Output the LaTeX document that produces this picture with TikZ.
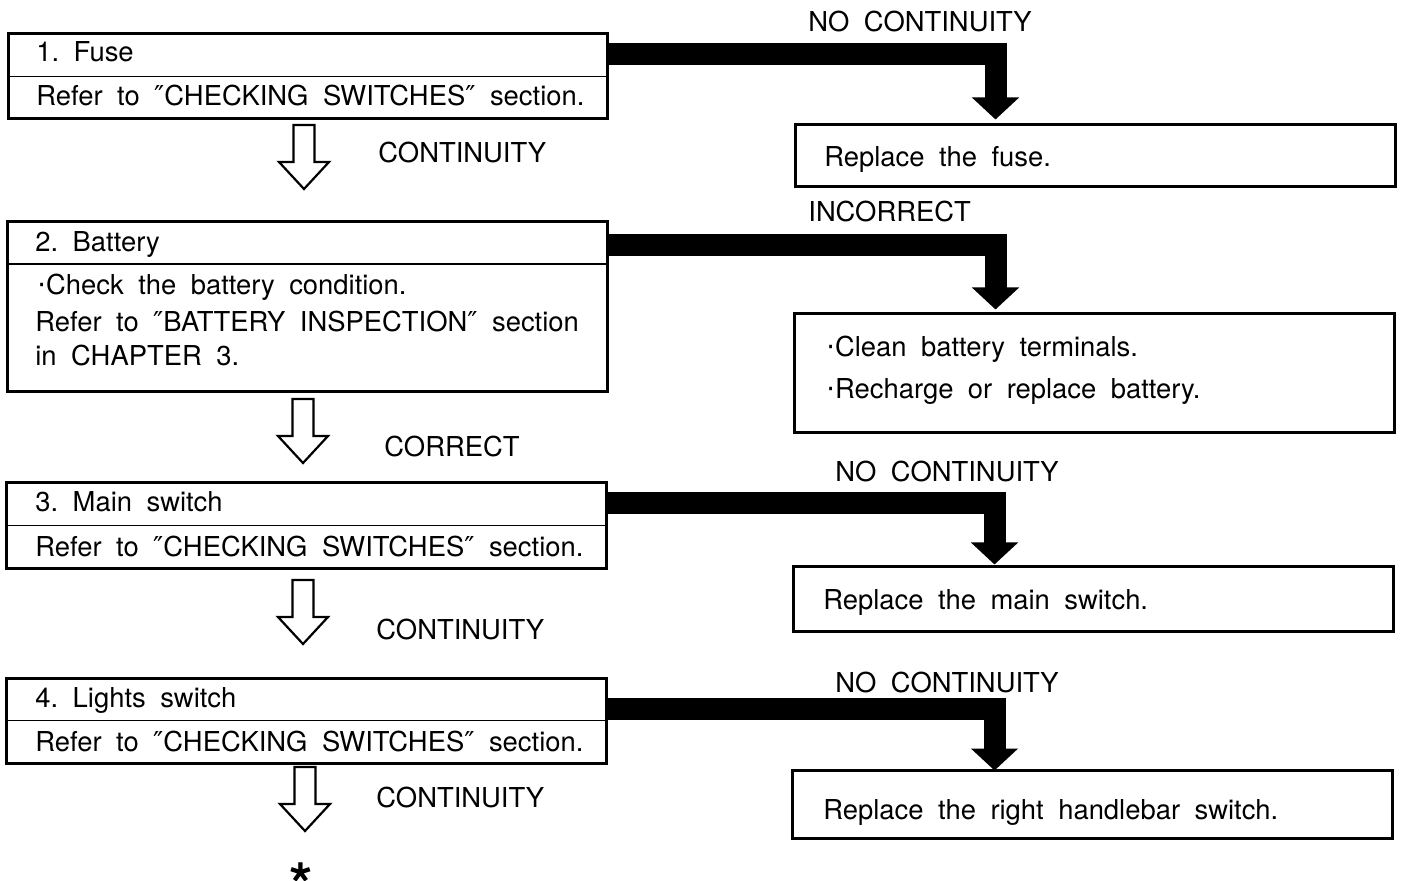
\documentclass[tikz,border=0pt]{standalone}
\usepackage{fontspec}
\setmainfont{TeX Gyre Heros}[WordSpace=1.9]
\newfontfamily\symfont{DejaVu Sans}
\newcommand\dq{{\symfont ″}}
\newcommand\dotmark{{\symfont ·}}
\usetikzlibrary{arrows.meta}

\tikzset{
  stepbox/.style={draw, line width=1.5pt, inner sep=0pt},
  fixbox/.style={draw, line width=1.5pt, inner sep=0pt},
  txt/.style={anchor=base west, inner sep=0pt, font=\fontsize{13.7}{16}\selectfont},
  ngarrow/.style={line width=11pt, -{Triangle[width=23pt,length=11pt]}},
  pics/okarrow/.style={code={
    \draw[line width=1.1pt, fill=white] (-10.5,0) -- (10.5,0) -- (10.5,37)
      -- (25,37) -- (0,64) -- (-25,37) -- (-10.5,37) -- cycle;}}
}

\begin{document}
\begin{tikzpicture}[x=0.5pt,y=-0.5pt]
  \fill[white] (0,0) rectangle (1402,881);
  \useasboundingbox (0,0) rectangle (1402,881);

  % step 1, fuse
  \node[stepbox, minimum width=299.5pt, minimum height=42.5pt] (b1) at (307.5,76.5) {};
  \draw[line width=0.8pt] (b1.west) -- (b1.east);
  \node[txt] (b1a) at (36,62) {1.\ Fuse};
  \node[txt] (b1b) at (36,106) {Refer to \dq CHECKING SWITCHES\dq\ section.};
  \node[fixbox, minimum width=300pt, minimum height=31pt] (r1) at (1095,156) {};
  \node[txt] (r1a) at (824,167) {Replace the fuse.};
  \node[txt] (n1) at (808,32) {NO CONTINUITY};
  \draw[ngarrow] ([yshift=-11pt]b1.north east) -| ([xshift=101pt,yshift=2pt]r1.north west);
  \pic at (304,125) {okarrow};
  \node[txt] (c1) at (378,163) {CONTINUITY};

  % step 2, battery
  \node[stepbox, minimum width=300pt, minimum height=85pt] (b2) at (307,307) {};
  \draw[line width=0.8pt] (b2.west |- 0,264) -- (b2.east |- 0,264);
  \node[txt] (b2a) at (35,252) {2.\ Battery};
  \node[txt] (b2b) at (35,295) {\kern1pt\dotmark Check the battery condition.};
  \node[txt] (b2c) at (35,332) {Refer to \dq BATTERY INSPECTION\dq\ section};
  \node[txt] (b2d) at (35,366) {in CHAPTER 3.};
  \node[fixbox, minimum width=300pt, minimum height=59.5pt] (r2) at (1094,373.5) {};
  \node[txt] (r2a) at (826,357) {\dotmark Clean battery terminals.};
  \node[txt] (r2b) at (826,399) {\dotmark Recharge or replace battery.};
  \node[txt] (n2) at (808,222) {INCORRECT};
  \draw[ngarrow] ([yshift=-12.5pt]b2.north east) -| ([xshift=101.5pt,yshift=1.5pt]r2.north west);
  \pic at (303,399) {okarrow};
  \node[txt] (c2) at (384,457) {CORRECT};

  % step 3, main switch
  \node[stepbox, minimum width=300pt, minimum height=42.5pt] (b3) at (306,525.5) {};
  \draw[line width=0.8pt] (b3.west) -- (b3.east);
  \node[txt] (b3a) at (35,512) {3.\ Main switch};
  \node[txt] (b3b) at (35,556) {Refer to \dq CHECKING SWITCHES\dq\ section.};
  \node[fixbox, minimum width=300pt, minimum height=32.5pt] (r3) at (1093,598.5) {};
  \node[txt] (r3a) at (823,609) {Replace the main switch.};
  \node[txt] (n3) at (835,482) {NO CONTINUITY};
  \draw[ngarrow] ([yshift=-11pt]b3.north east) -| ([xshift=101.5pt]r3.north west);
  \pic at (303,580) {okarrow};
  \node[txt] (c3) at (376,639) {CONTINUITY};

  % step 4, lights switch
  \node[stepbox, minimum width=300pt, minimum height=42.5pt] (b4) at (306,720.5) {};
  \draw[line width=0.8pt] (b4.west) -- (b4.east);
  \node[txt] (b4a) at (35,707) {4.\ Lights switch};
  \node[txt] (b4b) at (35,751) {Refer to \dq CHECKING SWITCHES\dq\ section.};
  \node[fixbox, minimum width=300pt, minimum height=34pt] (r4) at (1092,804) {};
  \node[txt] (r4a) at (823,819) {Replace the right handlebar switch.};
  \node[txt] (n4) at (835,692) {NO CONTINUITY};
  \draw[ngarrow] ([yshift=-16pt]b4.north east) -| ([xshift=102pt,yshift=-1pt]r4.north west);
  \pic at (305,767) {okarrow};
  \node[txt] (c4) at (376,807) {CONTINUITY};
  \node[font=\fontsize{30}{30}\selectfont\bfseries, inner sep=0pt, anchor=base] (end) at (301,906) {*};
\end{tikzpicture}
\end{document}
